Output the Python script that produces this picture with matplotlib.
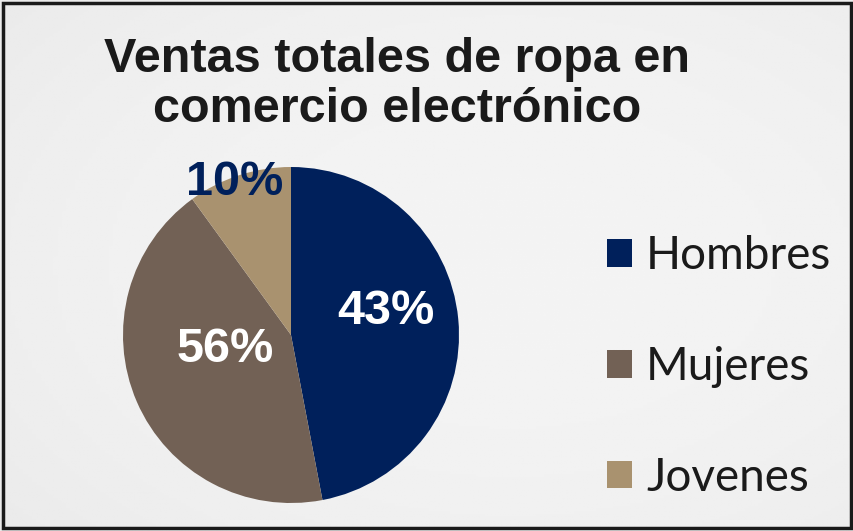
import numpy as np
import matplotlib
matplotlib.use('Agg')
import matplotlib.pyplot as plt
from matplotlib.patches import Rectangle

# data
categories = ['Hombres', 'Mujeres', 'Jovenes']
slice_sizes = [47, 43, 10]          # share of the circle as drawn
pct_labels = ['43%', '56%', '10%']  # labels as printed on the chart
colors = ['#00205b', '#726155', '#a9926f']
label_colors = ['white', 'white', '#00205b']
title = 'Ventas totales de ropa en\ncomercio electrónico'

fig = plt.figure(figsize=(8.54, 5.31), dpi=100)

# soft gray background
bg = fig.add_axes([0, 0, 1, 1], zorder=-10)
yy, xx = np.mgrid[0:1:200j, 0:1:200j]
shade = 0.955 - 0.06 * ((xx - 0.6) ** 2 + (yy - 0.5) ** 2)
bg.imshow(shade, cmap='gray', vmin=0, vmax=1, aspect='auto', extent=[0, 1, 0, 1])
bg.set_axis_off()
fig.patches.append(Rectangle((0.004, 0.006), 0.992, 0.988, transform=fig.transFigure,
                             fill=False, edgecolor='#1a1a1a', linewidth=2.5))

# pie
r_px = 168
cx, cy = 291 / 854, 1 - 335 / 531
ax = fig.add_axes([cx - r_px / 854, cy - r_px / 531, 2 * r_px / 854, 2 * r_px / 531])
wedges, _ = ax.pie(slice_sizes, colors=colors, startangle=90, counterclock=False,
                   wedgeprops=dict(linewidth=0))
ax.set_xlim(-1, 1)
ax.set_ylim(-1, 1)
ax.set_aspect('equal')

label_pos = [(0.565, 0.138), (-0.39, -0.085), (-0.335, 0.91)]
for txt, pos, c in zip(pct_labels, label_pos, label_colors):
    ax.text(pos[0], pos[1], txt, ha='center', va='center', fontsize=35,
            fontweight='bold', color=c, family='Liberation Sans')

fig.text(397 / 854, 1 - 122 / 531, title, ha='center', va='baseline', fontsize=35,
         fontweight='bold', color='#1a1a1a', family='Liberation Sans', linespacing=1.14,
         multialignment='center')

fig.legend(wedges, categories, loc='center left', bbox_to_anchor=(566 / 854, 1 - 367 / 531),
           frameon=False, prop=dict(family='Lato', size=33),
           handlelength=0.55, handleheight=0.55, handletextpad=0.3, labelspacing=1.5,
           labelcolor='#1a1a1a')

fig.savefig('out.png', dpi=100)
